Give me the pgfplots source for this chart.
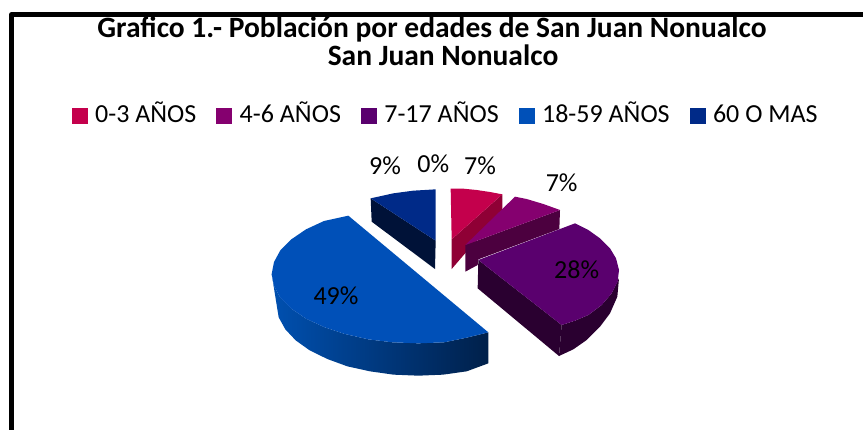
\documentclass[border=0pt]{standalone}
\usepackage{pgfplots}
\pgfplotsset{compat=1.18}
\usepackage{fontspec}
\setmainfont{Carlito}
\definecolor{cA}{HTML}{C4004C}
\definecolor{cAs}{HTML}{8F0035}
\definecolor{cB}{HTML}{85006F}
\definecolor{cBs}{HTML}{4C003F}
\definecolor{cC}{HTML}{5A006E}
\definecolor{cCs}{HTML}{2A0030}
\definecolor{cD}{HTML}{0050B8}
\definecolor{cDl}{HTML}{0050B0}
\definecolor{cDr}{HTML}{00204A}
\definecolor{cE}{HTML}{002A88}
\definecolor{cEs}{HTML}{001238}
\begin{document}
\begin{tikzpicture}
\begin{axis}[
  scale only axis, width=863pt, height=430pt,
  xmin=-780, xmax=1809, ymin=-450, ymax=840, y dir=reverse,
  hide axis,
  legend columns=-1,
  legend style={draw=none, fill=none, at={(axis cs:557,-102)}, anchor=center,
    font=\fontsize{26}{28}\selectfont, inner sep=0pt, outer sep=0pt,
    nodes={text height=18pt, text depth=5pt},
    /tikz/every even column/.append style={column sep=18pt}},
  legend image code/.code={\fill[#1] (0pt,-7.5pt) rectangle (15pt,7.5pt); \path (21pt,0pt) circle (0pt);},
  legend cell align=left,
]
\path (axis cs:-780,-450) rectangle (axis cs:1809,840);
\addlegendimage{cA}\addlegendentry{0-3 AÑOS}
\addlegendimage{cB}\addlegendentry{4-6 AÑOS}
\addlegendimage{cC}\addlegendentry{7-17 AÑOS}
\addlegendimage{cD}\addlegendentry{18-59 AÑOS}
\addlegendimage{cE}\addlegendentry{60 O MAS}

% frame
\addplot[forget plot, black, line width=4.6pt, line join=round] coordinates {(-745,840) (-745,-407) (1809,-407)};

% 60 O MAS
\addplot[forget plot, fill=cEs, draw=none] coordinates {(332,145) (527,272) (525,357) (335,215)} --cycle;
\addplot[forget plot, fill=cE, draw=none] coordinates {(332,145) (400,130) (460,122) (527,118) (527,272)} --cycle;
% 0-3
\addplot[forget plot, fill=cAs, draw=none] coordinates {(575,268) (727,133) (727,180) (575,357)} --cycle;
\addplot[forget plot, fill=cA, draw=none] coordinates {(575,268) (572,116) (610,116) (650,120) (690,126) (727,133)} --cycle;
% 4-6
\addplot[forget plot, fill=cBs, draw=none] coordinates {(616,285) (900,180) (898,237) (655,328) (653,345) (616,365)} --cycle;
\addplot[forget plot, fill=cB, draw=none] coordinates {(616,285) (765,140) (800,147) (850,162) (900,180)} --cycle;
% 7-17
\addplot[forget plot, fill=cCs, draw=none] coordinates {(655,330) (905,525) (897,618) (653,415)} --cycle;
\addplot[forget plot, fill=cCs, draw=none] coordinates {(905,525) (945,512) (985,495) (1025,465) (1055,430) (1077,385) (1072,440) (1050,490) (1020,530) (980,570) (940,598) (897,618)} --cycle;
\addplot[forget plot, fill=cC, draw=none] coordinates {(655,330) (945,220) (985,240) (1020,265) (1050,295) (1068,325) (1077,360) (1073,395) (1055,430) (1025,465) (985,495) (945,512) (905,525)} --cycle;
% 18-59
\addplot[forget plot, left color=cDl, right color=cDr, draw=none, shade] coordinates {(35,372) (42,408) (61,443) (94,476) (138,506) (192,531) (255,552) (325,568) (398,577) (475,580) (552,577) (620,563) (685,547) (685,640) (620,664) (549,674) (475,677) (401,674) (330,664) (262,649) (202,627) (149,601) (107,571) (76,538) (56,502) (50,465)} --cycle;
\addplot[forget plot, fill=cD, draw=none] coordinates {(265,197) (192,213) (138,238) (94,268) (61,301) (42,336) (35,372) (42,408) (61,443) (94,476) (138,506) (192,531) (255,552) (325,568) (398,577) (475,580) (552,577) (620,563) (685,547)} --cycle;

% data labels
\begin{scope}[every node/.style={font=\fontsize{26}{28}\selectfont, text=black}]
\node at (axis cs:375,48) {9\%};
\node at (axis cs:520,42) {0\%};
\node at (axis cs:660,48) {7\%};
\node at (axis cs:905,97) {7\%};
\node at (axis cs:950,360) {28\%};
\node at (axis cs:228,438) {49\%};
\end{scope}
% title
\node[font=\fontsize{29.5}{31}\selectfont\bfseries] at (axis cs:516,-363) {Grafico 1.- Población por edades de San Juan Nonualco};
\node[font=\fontsize{29.5}{31}\selectfont\bfseries] at (axis cs:549,-285) {San Juan Nonualco};
\end{axis}
\end{tikzpicture}
\end{document}
